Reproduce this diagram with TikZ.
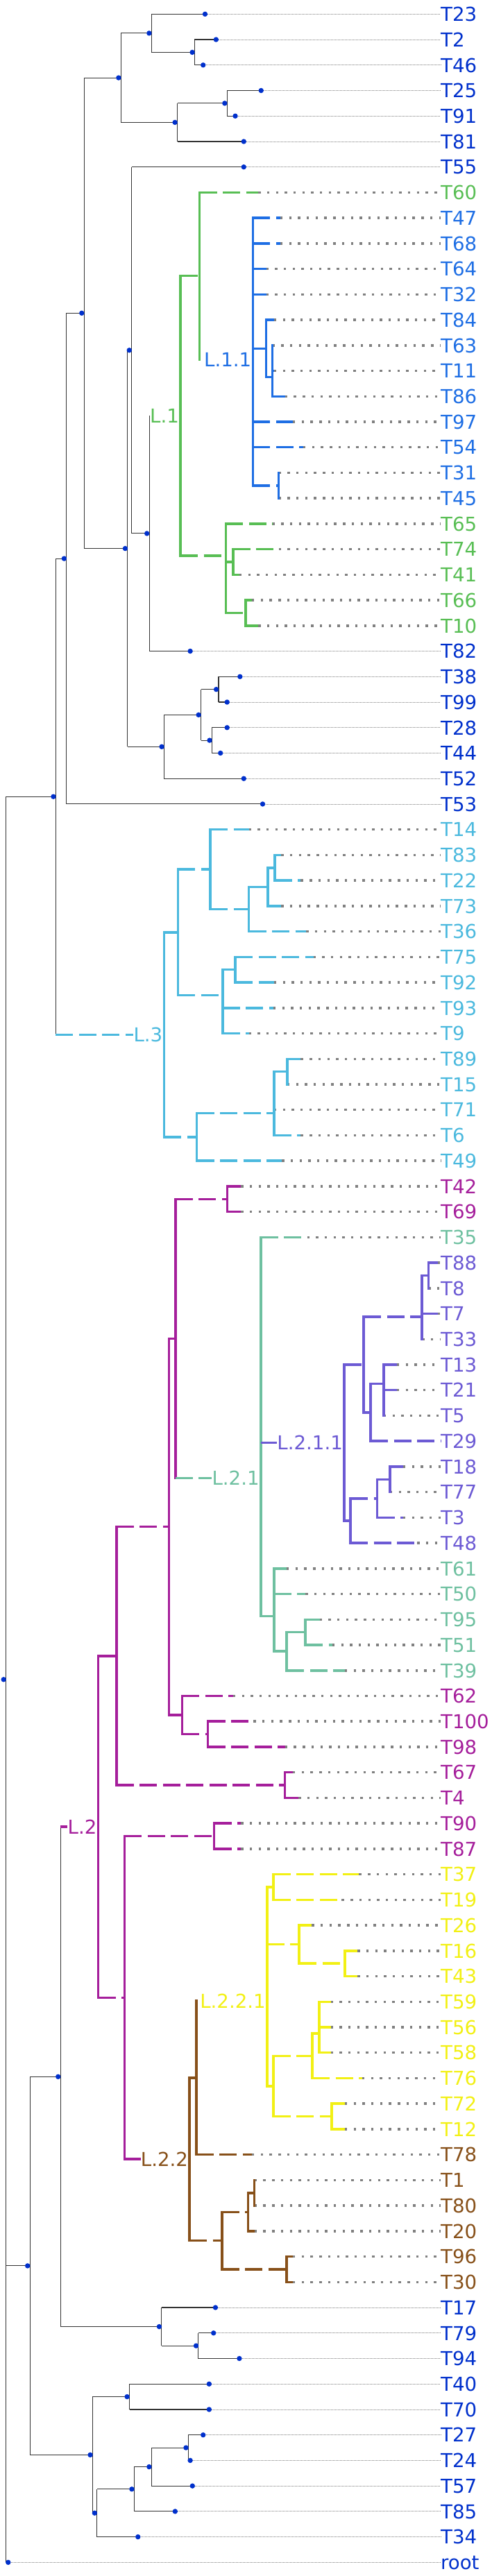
\documentclass[tikz,border=0pt]{standalone}
\usepackage{fontspec}
\setmainfont{DejaVu Sans}
\usepackage{tikz}
\usetikzlibrary{calc}
\definecolor{tnavy}{RGB}{0,48,204}
\definecolor{tgreen}{RGB}{88,190,84}
\definecolor{tblue}{RGB}{30,110,228}
\definecolor{tlblue}{RGB}{75,185,222}
\definecolor{tpurple}{RGB}{165,30,155}
\definecolor{tteal}{RGB}{110,192,160}
\definecolor{tviolet}{RGB}{108,90,212}
\definecolor{tyellow}{RGB}{242,240,20}
\definecolor{tbrown}{RGB}{135,80,25}
\definecolor{tgrey}{RGB}{128,128,128}

\begin{document}
\begin{tikzpicture}[x=0.45385pt, y=-1pt,
    % thin branches (uncoloured part of the tree)
    thinbr/.style={line width=1.1pt, black!80},
    % coloured branches: vertical, solid and dashed
    vbr/.style={line width=3.5pt, line cap=rect},
    solidbr/.style={line width=3.5pt},
    dashbr/.style={line width=3.5pt, dash pattern=on 25pt off 8.5pt},
    % leaders to the tip labels
    thinlead/.style={line width=0.8pt, tgrey, dash pattern=on 1pt off 1pt},
    dotlead/.style={line width=3.5pt, tgrey, dash pattern=on 3.4pt off 9.3pt},
    % labels
    leaf/.style={anchor=west, inner sep=0pt, text height=20.5pt, text depth=0pt, font=\fontsize{27.6}{30}\selectfont},
    clade/.style={anchor=east, inner sep=0pt, xshift=-2pt, text height=20.5pt, text depth=0pt, font=\fontsize{27.6}{30}\selectfont}
]
\path[use as bounding box] (0,0) rectangle (1560.2,3713);

% --- 1. INTERNAL NODES (x of the vertical bar, y) ---
\coordinate (nA) at (618,75.4);     \coordinate (nB) at (481,47.85);
\coordinate (nC) at (721,148.85);   \coordinate (nD) at (563,176.4);
\coordinate (nE) at (384,112.1);    \coordinate (nF) at (267,451.3);
\coordinate (nGG) at (211,805.1);   \coordinate (nHH) at (405,790.55);
\coordinate (nII) at (418,504.8);   \coordinate (nKK) at (474,768.9);
\coordinate (nJJ) at (521,1076.3);  \coordinate (nLL) at (638,1030.4);
\coordinate (nMM) at (694,993.65);  \coordinate (nNN) at (673,1067.1);
\coordinate (nCC) at (177,1148.2);  \coordinate (nRoot) at (19,2420.75);
\coordinate (nAA) at (95,3265.85);  \coordinate (nVV) at (192,2993.3);
\coordinate (nW) at (513,3353.55);  \coordinate (nW1) at (630,3381.1);
\coordinate (nBB) at (294,3538.4);  \coordinate (nPP) at (411,3454.55);
\coordinate (nQQ) at (308,3622.2);  \coordinate (nRR) at (426,3587.75);
\coordinate (nSS) at (481,3555.6);  \coordinate (nTT) at (598,3528.05);
% L.1 / L.1.1
\coordinate (nL1) at (573,599.25);  \coordinate (nL1a) at (634,397.7);
\coordinate (nL1b) at (717,800.8);  \coordinate (nL1c) at (740,810);
\coordinate (nL1d) at (780,883.45); \coordinate (nL11) at (803,518);
\coordinate (nQ) at (845,502.4);    \coordinate (nP) at (865,543.7);
\coordinate (nR) at (885,699.8);
% L.3
\coordinate (nL3) at (521,1491.25);   \coordinate (nL3a) at (565,1343.75);
\coordinate (nL3b) at (668,1253.1);   \coordinate (nL3b3) at (790,1310.45);
\coordinate (nL3b2) at (850,1278.3);  \coordinate (nL3b1) at (872,1250.75);
\coordinate (nL3c) at (707,1434.4);   \coordinate (nL3c1) at (747,1397.65);
\coordinate (nL3d) at (625,1638.75);  \coordinate (nL3e) at (870,1604.3);
\coordinate (nL3e1) at (912,1544.6);
% L.2 and its subclades
\coordinate (nL2) at (312,2633.1);  \coordinate (nS) at (370,2386.9);
\coordinate (nN) at (537,2200.7);   \coordinate (nM) at (557,1929.4);
\coordinate (nP1) at (722,1728.25); \coordinate (nO) at (578,2472.05);
\coordinate (nO1) at (660,2499.6);  \coordinate (nP2) at (905,2573.05);
\coordinate (nU) at (395,2879.35);  \coordinate (nP3) at (680,2646.5);
\coordinate (nL21) at (828,2130.6); \coordinate (nG3) at (870,2329.7);
\coordinate (nG2) at (910,2380.2);  \coordinate (nG1) at (970,2352.65);
\coordinate (nL211) at (1093,2079.5); \coordinate (nV5) at (1155,1967.0);
\coordinate (nV2) at (1340,1898.1); \coordinate (nV1) at (1360,1838.45);
\coordinate (nV4) at (1177,2035.9); \coordinate (nV3) at (1218,1994.55);
\coordinate (nV8) at (1113,2192.0); \coordinate (nV7) at (1198,2159.85);
\coordinate (nV6) at (1238,2132.3);
\coordinate (nL22) at (602,3112.2); \coordinate (nB1) at (623,2994.85);
\coordinate (nB5) at (705,3229.6);  \coordinate (nB3) at (788,3188.3);
\coordinate (nB2) at (808,3160.75); \coordinate (nB4) at (910,3270.95);
\coordinate (nL221) at (848,2884.1); \coordinate (nY1) at (868,2720.0);
\coordinate (nY3) at (950,2802.6);  \coordinate (nY2) at (1095,2830.15);
\coordinate (nY7) at (868,3006.9);  \coordinate (nY5) at (992,2963.3);
\coordinate (nY4) at (1013,2931.2); \coordinate (nY6) at (1053,3050.55);

% --- 2. TIPS, LABELS AND LEADERS ---
\foreach \name/\col/\tip/\lead [count=\i] in {
    T23/tnavy/651/thinlead, T2/tnavy/686/thinlead, T46/tnavy/645/thinlead,
    T25/tnavy/829/thinlead, T91/tnavy/747/thinlead, T81/tnavy/774/thinlead,
    T55/tnavy/774/thinlead, T60/tgreen/820/dotlead, T47/tblue/890/dotlead,
    T68/tblue/890/dotlead, T64/tblue/845/dotlead, T32/tblue/845/dotlead,
    T84/tblue/870/dotlead, T63/tblue/865/dotlead, T11/tblue/870/dotlead,
    T86/tblue/905/dotlead, T97/tblue/930/dotlead, T54/tblue/963/dotlead,
    T31/tblue/885/dotlead, T45/tblue/885/dotlead, T65/tgreen/865/dotlead,
    T74/tgreen/885/dotlead, T41/tgreen/760/dotlead, T66/tgreen/800/dotlead,
    T10/tgreen/820/dotlead, T82/tnavy/604/thinlead, T38/tnavy/762/thinlead,
    T99/tnavy/721/thinlead, T28/tnavy/721/thinlead, T44/tnavy/700/thinlead,
    T52/tnavy/774/thinlead, T53/tnavy/834/thinlead, T14/tlblue/790/dotlead,
    T83/tlblue/893/dotlead, T22/tlblue/955/dotlead, T73/tlblue/893/dotlead,
    T36/tlblue/972/dotlead, T75/tlblue/995/dotlead, T92/tlblue/870/dotlead,
    T93/tlblue/868/dotlead, T9/tlblue/790/dotlead, T89/tlblue/955/dotlead,
    T15/tlblue/912/dotlead, T71/tlblue/870/dotlead, T6/tlblue/955/dotlead,
    T49/tlblue/895/dotlead, T42/tpurple/765/dotlead, T69/tpurple/765/dotlead,
    T35/tteal/975/dotlead, T88/tviolet/1390/dotlead, T8/tviolet/1360/dotlead,
    T7/tviolet/1390/dotlead, T33/tviolet/1340/dotlead, T13/tviolet/1260/dotlead,
    T21/tviolet/1260/dotlead, T5/tviolet/1218/dotlead, T29/tviolet/1399/dotlead,
    T18/tviolet/1280/dotlead, T77/tviolet/1238/dotlead, T3/tviolet/1280/dotlead,
    T48/tviolet/1325/dotlead, T61/tteal/910/dotlead, T50/tteal/970/dotlead,
    T95/tteal/1015/dotlead, T51/tteal/1055/dotlead, T39/tteal/1095/dotlead,
    T62/tpurple/740/dotlead, T100/tpurple/805/dotlead, T98/tpurple/905/dotlead,
    T67/tpurple/930/dotlead, T4/tpurple/948/dotlead, T90/tpurple/765/dotlead,
    T87/tpurple/765/dotlead, T37/tyellow/1140/dotlead, T19/tyellow/1085/dotlead,
    T26/tyellow/990/dotlead, T16/tyellow/1135/dotlead, T43/tyellow/1135/dotlead,
    T59/tyellow/1050/dotlead, T56/tyellow/1050/dotlead, T58/tyellow/1050/dotlead,
    T76/tyellow/1150/dotlead, T72/tyellow/1095/dotlead, T12/tyellow/1095/dotlead,
    T78/tbrown/800/dotlead, T1/tbrown/808/dotlead, T80/tbrown/808/dotlead,
    T20/tbrown/808/dotlead, T96/tbrown/930/dotlead, T30/tbrown/930/dotlead,
    T17/tnavy/684/thinlead, T79/tnavy/678/thinlead, T94/tnavy/760/thinlead,
    T40/tnavy/664/thinlead, T70/tnavy/664/thinlead, T27/tnavy/645/thinlead,
    T24/tnavy/604/thinlead, T57/tnavy/611/thinlead, T85/tnavy/556/thinlead,
    T34/tnavy/438/thinlead, root/tnavy/26/thinlead}
{
    \coordinate (\name) at (\tip, {20.3+36.73*(\i-1)});
    \node[leaf, text=\col] (l\name) at (1399, {20.3+36.73*(\i-1)}) {\name};
    \draw[\lead] (\name) -- (l\name.west);
}

% --- 3. THIN BRANCHES ---
\foreach \p/\a/\b in {nA/T2/T46, nB/T23/nA, nC/T25/T91, nD/nC/T81, nE/nB/nD,
    nF/nE/nHH, nGG/nF/T53, nHH/nII/nJJ, nII/T55/nKK, nKK/nL1/T82, nJJ/nLL/T52,
    nLL/nMM/nNN, nMM/T38/T99, nNN/T28/T44, nCC/nGG/nL3, nRoot/nCC/root,
    nAA/nVV/nBB, nVV/nL2/nW, nW/T17/nW1, nW1/T79/T94, nBB/nPP/nQQ,
    nPP/T40/T70, nQQ/nRR/T34, nRR/nSS/T85, nSS/nTT/T57, nTT/T27/T24}
    \draw[thinbr] (\p |- \a) -- (\p |- \b);
\foreach \p/\c in {nA/T2, nA/T46, nB/T23, nB/nA, nC/T25, nC/T91, nD/nC, nD/T81,
    nE/nB, nE/nD, nF/nE, nF/nHH, nGG/nF, nGG/T53, nHH/nII, nHH/nJJ, nII/T55,
    nII/nKK, nKK/T82, nJJ/nLL, nJJ/T52, nLL/nMM, nLL/nNN, nMM/T38, nMM/T99,
    nNN/T28, nNN/T44, nCC/nGG, nRoot/nCC, nRoot/nAA, nRoot/root, nAA/nVV,
    nAA/nBB, nVV/nW, nW/T17, nW/nW1, nW1/T79, nW1/T94, nBB/nPP, nBB/nQQ,
    nPP/T40, nPP/T70, nQQ/nRR, nQQ/T34, nRR/nSS, nRR/T85, nSS/nTT, nSS/T57,
    nTT/T27, nTT/T24}
    \draw[thinbr] (\p |- \c) -- (\c);

% --- 4. COLOURED BRANCHES ---
\foreach \p/\a/\b/\col in {
    nL1/nL1a/nL1b/tgreen, nL1a/T60/nL11/tgreen, nL1b/T65/nL1d/tgreen,
    nL1c/T74/T41/tgreen, nL1d/T66/T10/tgreen,
    nL11/T47/nR/tblue, nQ/T84/nP/tblue, nP/T63/T86/tblue, nR/T31/T45/tblue,
    nL3/nL3a/nL3d/tlblue, nL3a/nL3b/nL3c/tlblue, nL3b/T14/nL3b3/tlblue,
    nL3b3/nL3b2/T36/tlblue, nL3b2/nL3b1/T73/tlblue, nL3b1/T83/T22/tlblue,
    nL3c/nL3c1/T9/tlblue, nL3c1/T75/T92/tlblue, nL3d/nL3e/T49/tlblue,
    nL3e/nL3e1/T6/tlblue, nL3e1/T89/T15/tlblue,
    nL2/nS/nU/tpurple, nS/nN/nP2/tpurple, nN/nM/nO/tpurple, nM/nP1/nL21/tpurple,
    nP1/T42/T69/tpurple, nO/T62/nO1/tpurple, nO1/T100/T98/tpurple,
    nP2/T67/T4/tpurple, nU/nP3/nL22/tpurple, nP3/T90/T87/tpurple,
    nL21/T35/nG3/tteal, nG3/T61/nG2/tteal, nG2/nG1/T39/tteal, nG1/T95/T51/tteal,
    nL211/nV5/nV8/tviolet, nV5/nV2/nV4/tviolet, nV2/nV1/T33/tviolet,
    nV1/T88/T8/tviolet, nV4/nV3/T29/tviolet, nV3/T13/T5/tviolet,
    nV8/nV7/T48/tviolet, nV7/nV6/T3/tviolet, nV6/T18/T77/tviolet,
    nL221/nY1/nY7/tyellow, nY1/T37/T19/tyellow, nY3/T26/nY2/tyellow,
    nY2/T16/T43/tyellow, nY7/nY5/nY6/tyellow, nY5/nY4/T76/tyellow,
    nY4/T59/T58/tyellow, nY6/T72/T12/tyellow,
    nL22/nB1/nB5/tbrown, nB1/nL221/T78/tbrown, nB5/nB3/nB4/tbrown,
    nB3/nB2/T20/tbrown, nB2/T1/T80/tbrown, nB4/T96/T30/tbrown}
    \draw[vbr, \col] (\p |- \a) -- (\p |- \b);
\foreach \p/\c/\col/\s in {
    nL1/nL1a/tgreen/dashbr, nL1/nL1b/tgreen/dashbr, nL1a/T60/tgreen/dashbr,
    nL1b/T65/tgreen/dashbr, nL1b/nL1c/tgreen/solidbr, nL1b/nL1d/tgreen/dashbr,
    nL1c/T74/tgreen/dashbr, nL1c/T41/tgreen/solidbr, nL1d/T66/tgreen/solidbr,
    nL1d/T10/tgreen/solidbr,
    nL11/T47/tblue/dashbr, nL11/T68/tblue/dashbr, nL11/T64/tblue/solidbr,
    nL11/T32/tblue/solidbr, nL11/nQ/tblue/solidbr, nL11/T97/tblue/dashbr,
    nL11/T54/tblue/dashbr, nL11/nR/tblue/dashbr, nQ/T84/tblue/solidbr,
    nQ/nP/tblue/solidbr, nP/T63/tblue/solidbr, nP/T11/tblue/solidbr, nP/T86/tblue/solidbr,
    nL3/nL3a/tlblue/solidbr, nL3/nL3d/tlblue/dashbr, nL3a/nL3b/tlblue/dashbr,
    nL3a/nL3c/tlblue/dashbr, nL3b/T14/tlblue/dashbr, nL3b/nL3b3/tlblue/dashbr,
    nL3b3/nL3b2/tlblue/dashbr, nL3b3/T36/tlblue/dashbr, nL3b2/nL3b1/tlblue/solidbr,
    nL3b2/T73/tlblue/solidbr, nL3b1/T83/tlblue/solidbr, nL3b1/T22/tlblue/dashbr,
    nL3c/nL3c1/tlblue/solidbr, nL3c/T93/tlblue/dashbr, nL3c/T9/tlblue/dashbr,
    nL3c1/T75/tlblue/dashbr, nL3c1/T92/tlblue/dashbr, nL3d/nL3e/tlblue/dashbr,
    nL3d/T49/tlblue/dashbr, nL3e/nL3e1/tlblue/solidbr, nL3e/T71/tlblue/solidbr,
    nL3e/T6/tlblue/dashbr, nL3e1/T89/tlblue/solidbr, nL3e1/T15/tlblue/solidbr,
    nL2/nS/tpurple/dashbr, nL2/nU/tpurple/dashbr, nS/nN/tpurple/dashbr,
    nS/nP2/tpurple/dashbr, nN/nM/tpurple/solidbr, nN/nO/tpurple/solidbr,
    nM/nP1/tpurple/dashbr, nP1/T42/tpurple/solidbr, nP1/T69/tpurple/solidbr,
    nO/T62/tpurple/dashbr, nO/nO1/tpurple/dashbr, nO1/T100/tpurple/dashbr,
    nO1/T98/tpurple/dashbr, nP2/T67/tpurple/solidbr, nP2/T4/tpurple/solidbr,
    nU/nP3/tpurple/dashbr, nP3/T90/tpurple/dashbr, nP3/T87/tpurple/dashbr,
    nL21/T35/tteal/dashbr, nL21/nG3/tteal/solidbr, nG3/T61/tteal/solidbr,
    nG3/T50/tteal/dashbr, nG3/nG2/tteal/solidbr, nG2/nG1/tteal/dashbr,
    nG2/T39/tteal/dashbr, nG1/T95/tteal/solidbr, nG1/T51/tteal/dashbr,
    nL211/nV5/tviolet/dashbr, nL211/nV8/tviolet/solidbr, nV5/nV2/tviolet/dashbr,
    nV5/nV4/tviolet/solidbr, nV2/nV1/tviolet/solidbr, nV2/T7/tviolet/solidbr,
    nV1/T88/tviolet/solidbr, nV4/nV3/tviolet/solidbr, nV4/T29/tviolet/dashbr,
    nV3/T13/tviolet/solidbr, nV3/T21/tviolet/solidbr, nV8/nV7/tviolet/dashbr,
    nV8/T48/tviolet/dashbr, nV7/nV6/tviolet/solidbr, nV7/T3/tviolet/dashbr,
    nV6/T18/tviolet/solidbr,
    nL221/nY1/tyellow/solidbr, nL221/nY3/tyellow/dashbr, nL221/nY7/tyellow/solidbr,
    nY1/T37/tyellow/dashbr, nY1/T19/tyellow/dashbr, nY3/T26/tyellow/solidbr,
    nY3/nY2/tyellow/dashbr, nY2/T16/tyellow/solidbr, nY2/T43/tyellow/solidbr,
    nY7/nY5/tyellow/dashbr, nY7/nY6/tyellow/dashbr, nY5/nY4/tyellow/solidbr,
    nY5/T76/tyellow/dashbr, nY4/T59/tyellow/solidbr, nY4/T56/tyellow/solidbr,
    nY4/T58/tyellow/solidbr, nY6/T72/tyellow/solidbr, nY6/T12/tyellow/solidbr,
    nL22/nB1/tbrown/solidbr, nL22/nB5/tbrown/dashbr, nB1/T78/tbrown/dashbr,
    nB5/nB3/tbrown/dashbr, nB5/nB4/tbrown/dashbr, nB3/nB2/tbrown/solidbr,
    nB3/T20/tbrown/solidbr, nB4/T96/tbrown/solidbr, nB4/T30/tbrown/solidbr}
    \draw[\s, \col] (\p |- \c) -- (\c);

% --- 5. CLADE LABELS ON THEIR BRANCHES ---
\node[clade, text=tgreen] (cL1) at (nL1) {L.1};
\node[clade, text=tblue] (cL11) at (nL11) {L.1.1};
\node[clade, text=tlblue] (cL3) at (nL3) {L.3};
\node[clade, text=tpurple] (cL2) at (nL2) {L.2};
\node[clade, text=tteal] (cL21) at (nL21) {L.2.1};
\node[clade, text=tviolet] (cL211) at (nL211) {L.2.1.1};
\node[clade, text=tbrown] (cL22) at (nL22) {L.2.2};
\node[clade, text=tyellow] (cL221) at (nL221) {L.2.2.1};
\draw[dashbr, tlblue] (nCC |- nL3) -- (cL3.west);
\draw[solidbr, tpurple] (nVV |- nL2) -- (cL2.west);
\draw[dashbr, tteal] (nM |- nL21) -- (cL21.west);
\draw[solidbr, tviolet] (nL21 |- nL211) -- (cL211.west);
\draw[solidbr, tpurple] (nU |- nL22) -- (cL22.west);

% --- 6. NODE DOTS ---
\foreach \n in {T23,T2,T46,T25,T91,T81,T55,T82,T38,T99,T28,T44,T52,T53,
    T17,T79,T94,T40,T70,T27,T24,T57,T85,T34,root}
    \fill[tnavy] (\n) circle (3.7pt);
\foreach \n in {nA,nB,nC,nD,nE,nF,nGG,nHH,nII,nKK,nJJ,nLL,nMM,nNN,nCC,nRoot,
    nAA,nVV,nW,nW1,nBB,nPP,nQQ,nRR,nSS,nTT}
    \fill[tnavy] ([xshift=-3.4pt]\n) circle (3.7pt);

\end{tikzpicture}
\end{document}
